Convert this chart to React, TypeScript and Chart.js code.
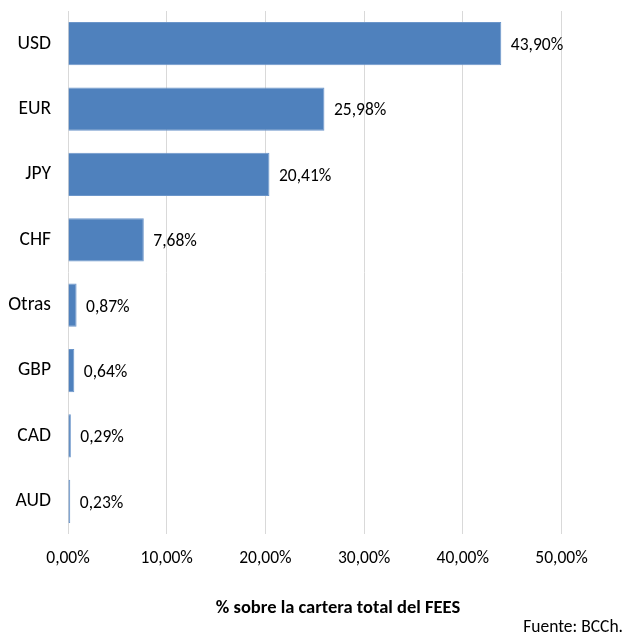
import React, { useEffect, useRef } from "react";
import { Chart, registerables } from "chart.js";

Chart.register(...registerables);

const categories = ["USD", "EUR", "JPY", "CHF", "Otras", "GBP", "CAD", "AUD"];
const shares = [43.9, 25.98, 20.41, 7.68, 0.87, 0.64, 0.29, 0.23];
const xTicks = [0, 10, 20, 30, 40, 50];
const axisTitle = "% sobre la cartera total del FEES";
const sourceNote = "Fuente: BCCh.";

const FONT = "Carlito, Lato, 'Liberation Sans', sans-serif";
const fmt = (v: number) => v.toFixed(2).replace(".", ",") + "%";

const valueLabels = {
  id: "valueLabels",
  afterDatasetsDraw(chart: any) {
    const { ctx } = chart;
    const meta = chart.getDatasetMeta(0);
    ctx.save();
    ctx.font = `17.5px ${FONT}`;
    ctx.fillStyle = "#000";
    ctx.textBaseline = "middle";
    ctx.textAlign = "left";
    meta.data.forEach((bar: any, i: number) => {
      ctx.fillText(fmt(shares[i]), bar.x + 9.5, bar.y + 2);
    });
    ctx.textAlign = "center";
    ctx.font = `bold 18.5px ${FONT}`;
    ctx.fillText(axisTitle, 338, 608.5);
    ctx.font = `17.5px ${FONT}`;
    ctx.textAlign = "right";
    ctx.fillText(sourceNote, chart.width - 1, 627.5);
    ctx.restore();
  },
};

export default function App() {
  const ref = useRef<HTMLCanvasElement>(null);
  useEffect(() => {
    if (!ref.current) return;
    const chart = new Chart(ref.current, {
      type: "bar",
      data: {
        labels: categories,
        datasets: [
          {
            data: shares,
            backgroundColor: "#4F81BD",
            borderColor: "#6C96CA",
            borderWidth: 1,
            barPercentage: 0.829,
            categoryPercentage: 0.8,
          },
        ],
      },
      options: {
        indexAxis: "y",
        responsive: false,
        animation: false,
        layout: { padding: { top: 11, right: 62.5, bottom: 52, left: 0 } },
        plugins: {
          legend: { display: false },
          tooltip: { enabled: false },
        },
        scales: {
          x: {
            min: 0,
            max: 50,
            afterBuildTicks: (s: any) => {
              s.ticks = xTicks.map((v) => ({ value: v }));
            },
            grid: { color: "#D9D9D9", drawTicks: false, lineWidth: 1 },
            border: { display: false },
            ticks: {
              padding: 14,
              color: "#000",
              font: { family: FONT, size: 17.5 },
              maxRotation: 0,
              callback: (v: any) => fmt(Number(v)),
            },
            title: { display: false },
            afterFit: (s: any) => {
              s.paddingLeft = 0;
              s.paddingRight = 0;
            },
          },
          y: {
            grid: { display: false, drawTicks: false },
            border: { display: false },
            ticks: {
              padding: 17,
              color: "#000",
              font: { family: FONT, size: 19.5 },
            },
            afterFit: (s: any) => {
              s.width = 68;
              s.paddingTop = 0;
              s.paddingBottom = 0;
            },
          },
        },
      },
      plugins: [valueLabels],
    });
    return () => chart.destroy();
  }, []);
  return (
    <div style={{ position: "fixed", left: 0, top: 0, width: 624, height: 635, background: "#fff" }}>
      <canvas ref={ref} width={624} height={635} />
    </div>
  );
}
